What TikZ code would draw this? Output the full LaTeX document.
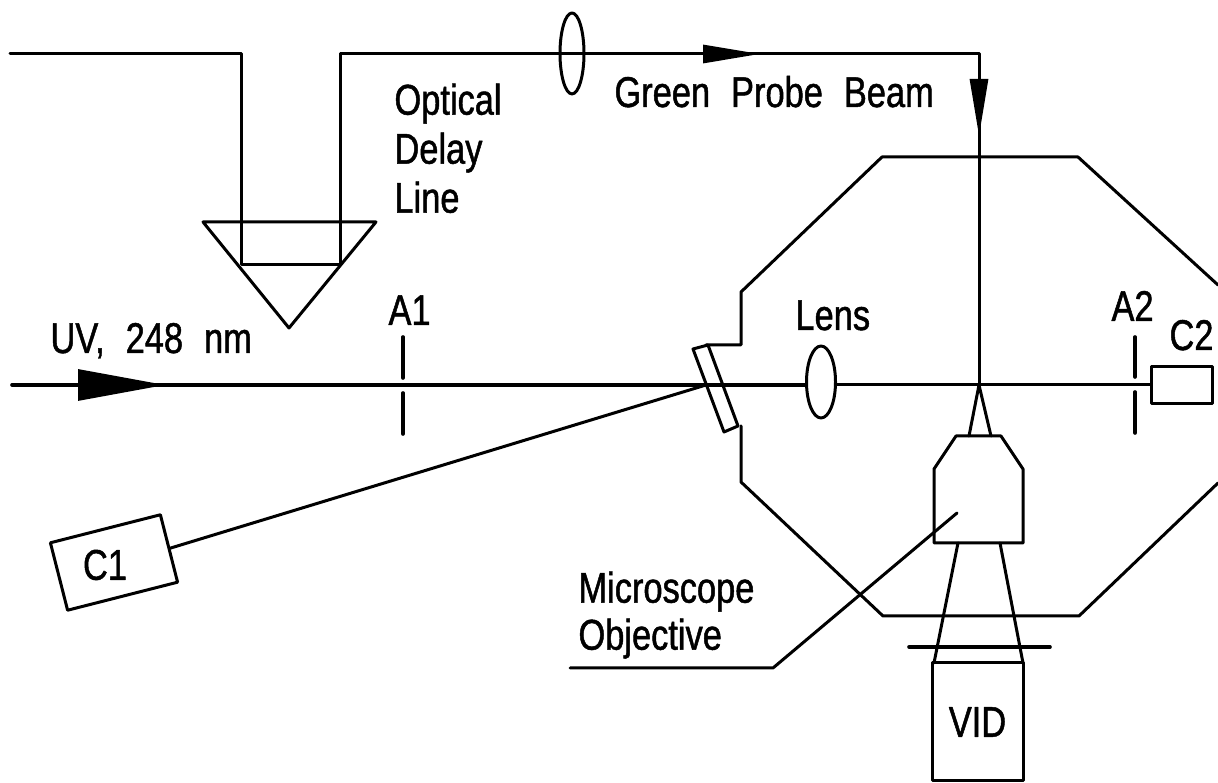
\documentclass[tikz,border=0pt]{standalone}
\usepackage{fontspec}
\newfontfamily\draftfont[FakeStretch=0.8,FakeBold=1.1,WordSpace=2.2]{Liberation Sans}
\usetikzlibrary{positioning}
\usetikzlibrary{arrows.meta}
\usetikzlibrary{shapes.geometric}

\begin{document}
\begin{tikzpicture}[line width=3pt,line join=round,line cap=round,
	lbl/.style={inner sep=0pt,align=left,font=\draftfont\fontsize{43}{49}\selectfont},
	lens/.style={ellipse,draw,inner sep=0pt},
	box/.style={rectangle,draw,inner sep=0pt}]

		  \path[use as bounding box] (0,0) rectangle (1218pt,783pt);
		  \coordinate (O) at (0,783pt);

		  % Probe beam
		  \coordinate [below right=54pt and 10pt of O]   (PA);
		  \coordinate [below right=54pt and 241pt of O]  (PB);
		  \coordinate [below right=265pt and 241pt of O] (PC);
		  \coordinate [below right=265pt and 340pt of O] (PD);
		  \coordinate [below right=54pt and 340pt of O]  (PE);
		  \coordinate [below right=54pt and 979pt of O]  (PF);
		  \coordinate [below right=385pt and 979pt of O] (Focus);
		  \coordinate [below right=54pt and 703pt of O]  (PArrowA);
		  \coordinate [below right=54pt and 760pt of O]  (PArrowB);
		  \coordinate [below right=80pt and 979pt of O]  (PArrowC);
		  \coordinate [below right=136pt and 979pt of O] (PArrowD);
		  \node[lens,minimum width=24pt,minimum height=81pt] (TopLens) [below right=53.5pt and 572pt of O,anchor=center] {};

		  % Prism
		  \coordinate [below right=222pt and 203pt of O] (TA);
		  \coordinate [below right=222pt and 376pt of O] (TB);
		  \coordinate [below right=328pt and 289pt of O] (TC);

		  % Pump beam
		  \coordinate [below right=385pt and 12pt of O]  (UA);
		  \coordinate [below right=385pt and 78pt of O]  (UArrowA);
		  \coordinate [below right=385pt and 165pt of O] (UArrowB);
		  \node[lens,minimum width=29pt,minimum height=72pt] (Lens) [below right=382pt and 821pt of O,anchor=center] {};
		  \node[box,minimum width=61pt,minimum height=37pt] (C2) [below right=385pt and 1181.5pt of O,anchor=center] {};
		  \node[box,minimum width=91pt,minimum height=118pt,font=\draftfont\fontsize{43}{49}\selectfont] (VID) [below right=722pt and 977.5pt of O,anchor=center] {VID};
		  \node[box,minimum width=113.5pt,minimum height=69.6pt,rotate=14.3] (C1) [below right=562.5pt and 114pt of O,anchor=center] {};

		  % Apertures
		  \coordinate [below right=337pt and 403pt of O]  (AA);
		  \coordinate [below right=378pt and 403pt of O]  (AB);
		  \coordinate [below right=393pt and 403pt of O]  (AC);
		  \coordinate [below right=434pt and 403pt of O]  (AD);
		  \coordinate [below right=337pt and 1135pt of O] (BA);
		  \coordinate [below right=377pt and 1135pt of O] (BB);
		  \coordinate [below right=392pt and 1135pt of O] (BC);
		  \coordinate [below right=433pt and 1135pt of O] (BD);

		  % Chamber
		  \coordinate [below right=285pt and 1218pt of O] (CA);
		  \coordinate [below right=157pt and 1078pt of O] (CB);
		  \coordinate [below right=157pt and 882pt of O]  (CC);
		  \coordinate [below right=292pt and 741pt of O]  (CD);
		  \coordinate [below right=345pt and 741pt of O]  (CE);
		  \coordinate [below right=345pt and 706pt of O]  (CF);
		  \coordinate [below right=426pt and 741pt of O]  (CG);
		  \coordinate [below right=482pt and 741pt of O]  (CH);
		  \coordinate [below right=616pt and 883pt of O]  (CI);
		  \coordinate [below right=616pt and 1079pt of O] (CJ);
		  \coordinate [below right=483pt and 1218pt of O] (CK);

		  % Window
		  \coordinate [below right=349pt and 693pt of O]  (WA);
		  \coordinate [below right=345pt and 708pt of O]  (WB);
		  \coordinate [below right=426pt and 738pt of O]  (WC);
		  \coordinate [below right=432pt and 724pt of O]  (WD);
		  \coordinate [below right=385pt and 706pt of O]  (WE);

		  % Objective
		  \coordinate [below right=436pt and 956pt of O]  (OA);
		  \coordinate [below right=436pt and 1001pt of O] (OB);
		  \coordinate [below right=469pt and 1023pt of O] (OC);
		  \coordinate [below right=543pt and 1023pt of O] (OD);
		  \coordinate [below right=543pt and 934pt of O]  (OE);
		  \coordinate [below right=469pt and 934pt of O]  (OF);
		  \coordinate [below right=436pt and 969pt of O]  (OG);
		  \coordinate [below right=436pt and 991pt of O]  (OH);
		  \coordinate [below right=543pt and 958pt of O]  (OI);
		  \coordinate [below right=543pt and 1000pt of O] (OJ);
		  \coordinate [below right=663pt and 934pt of O]  (OK);
		  \coordinate [below right=663pt and 1023pt of O] (OL);
		  \coordinate [below right=647pt and 909pt of O]  (PlateA);
		  \coordinate [below right=647pt and 1050pt of O] (PlateB);
		  \coordinate [below right=668pt and 570pt of O]  (LA);
		  \coordinate [below right=668pt and 773pt of O]  (LB);
		  \coordinate [below right=513pt and 957pt of O]  (LC);

		  % Labels
		  \node[lbl] (Delay) [below right=82pt and 393pt of O,anchor=north west] {Optical\\Delay\\Line};
		  \node[lbl] (Green) [below right=107pt and 613pt of O,anchor=base west] {Green Probe Beam};
		  \node[lbl] (UV)    [below right=353pt and 49pt of O,anchor=base west] {UV, 248 nm};
		  \node[lbl] (A1)    [below right=325pt and 387pt of O,anchor=base west] {A1};
		  \node[lbl] (LensT) [below right=330pt and 794pt of O,anchor=base west] {Lens};
		  \node[lbl] (A2)    [below right=321pt and 1110pt of O,anchor=base west] {A2};
		  \node[lbl] (C2T)   [below right=350pt and 1168pt of O,anchor=base west] {C2};
		  \node[lbl] (C1T)   [below right=565pt and 105pt of O,anchor=center] {C1};
		  \node[lbl] (Micro) [below right=570pt and 577pt of O,anchor=north west] {Microscope\\[-2pt]Objective};

		  \draw (PA) -- (PB) -- (PC) -- (PD) -- (PE) -- (PF) -- (Focus);
		  \draw (TA) -- (TB) -- (TC) -- cycle;
		  \draw[line width=3.6pt] (UA) -- (UA -| Lens.west);
		  \draw (C2.west -| Lens.east) -- (C2.west);
		  \draw[line width=3.6pt] (AA) -- (AB) (AC) -- (AD) (BA) -- (BB) (BC) -- (BD);
		  \draw (CA) -- (CB) -- (CC) -- (CD) -- (CE) -- (CF);
		  \draw (CG) -- (CH) -- (CI) -- (CJ) -- (CK);
		  \draw (WA) -- (WB) -- (WC) -- (WD) -- cycle;
		  \draw (C1.east) -- (WE);
		  \draw (Focus) -- (OG) (Focus) -- (OH);
		  \draw (OA) -- (OB) -- (OC) -- (OD) -- (OE) -- (OF) -- cycle;
		  \draw (OI) -- (OK) (OJ) -- (OL);
		  \draw[line width=3.6pt] (PlateA) -- (PlateB);
		  \draw (LA) -- (LB) -- (LC);

		  \path[-{Triangle[length=57pt,width=18pt]},line cap=butt]
			(PArrowA) edge (PArrowB)
			(PArrowC) edge (PArrowD);
		  \path[-{Triangle[length=87pt,width=31pt]},line cap=butt]
			(UArrowA) edge (UArrowB);

		\end{tikzpicture}
\end{document}
